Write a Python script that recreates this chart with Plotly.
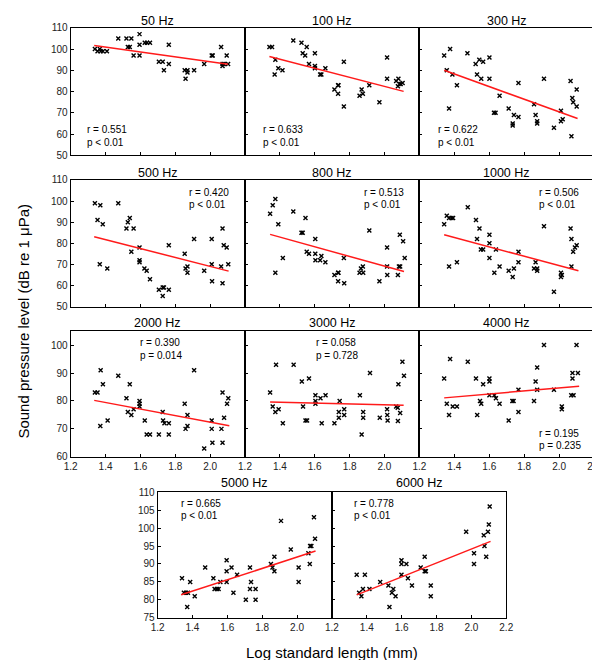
import plotly.graph_objects as go

# ---------------- data ----------------
titles = ["50 Hz", "100 Hz", "300 Hz", "500 Hz", "800 Hz", "1000 Hz",
          "2000 Hz", "3000 Hz", "4000 Hz", "5000 Hz", "6000 Hz"]

x_50 = [1.339, 1.354, 1.367, 1.372, 1.385, 1.408, 1.473, 1.52, 1.528, 1.539, 1.548, 1.561, 1.595, 1.595, 1.595,
        1.625, 1.638, 1.655, 1.706, 1.728, 1.735, 1.763, 1.763, 1.854, 1.859, 1.87, 1.87, 1.908, 1.966, 2.009,
        2.015, 2.063, 2.071, 2.071, 2.078, 2.095, 2.103]
y_50 = [100, 99, 100, 99, 99, 99, 105, 105, 101, 101, 105, 97, 107, 102, 97,
        103, 103, 103, 94, 94, 90, 102, 93, 90, 86, 89, 90, 90, 93, 97,
        97, 101, 93, 92, 93, 97, 93]

x_100 = [1.34, 1.355, 1.374, 1.37, 1.391, 1.415, 1.477, 1.524, 1.531, 1.545, 1.554, 1.567, 1.601, 1.601, 1.601,
         1.631, 1.638, 1.661, 1.713, 1.734, 1.736, 1.734, 1.767, 1.767, 1.857, 1.869, 1.876, 1.913, 1.971, 2.015,
         2.015, 2.067, 2.077, 2.08, 2.086, 2.093, 2.104]
y_100 = [101, 101, 95, 88, 91, 90, 104, 103, 98, 97, 101, 93, 98, 92, 91,
         88, 88, 91, 81, 83, 83, 79, 94, 73, 78, 81, 79, 83, 75, 96,
         86, 85, 82.5, 86, 83.5, 83.5, 84]

x_300 = [1.342, 1.357, 1.376, 1.37, 1.389, 1.415, 1.475, 1.522, 1.53, 1.543, 1.554, 1.565, 1.601, 1.601, 1.659,
         1.627, 1.636, 1.711, 1.734, 1.734, 1.741, 1.767, 1.767, 1.856, 1.865, 1.874, 1.874, 1.913, 1.97, 2.01,
         2.01, 2.02, 2.065, 2.07, 2.075, 2.08, 2.1, 2.1]
y_300 = [97, 90, 100, 72, 88, 83, 98, 93, 88, 95, 86, 94, 96, 86, 78,
         70, 70, 72, 65, 64, 69, 84, 68, 74, 69, 66, 65, 86, 63, 71,
         66, 67, 85, 59, 77, 75, 73, 81]

x_500 = [1.339, 1.354, 1.367, 1.37, 1.384, 1.41, 1.473, 1.52, 1.528, 1.539, 1.548, 1.561, 1.595, 1.595, 1.595,
         1.623, 1.636, 1.655, 1.706, 1.728, 1.735, 1.728, 1.763, 1.763, 1.854, 1.859, 1.87, 1.87, 1.908, 1.966,
         2.009, 2.009, 2.011, 2.063, 2.071, 2.071, 2.078, 2.095, 2.104]
y_500 = [99, 91, 70, 98, 89, 68, 99, 87, 90, 92, 76, 87, 78, 72, 71,
         68, 67, 63, 58, 59, 59, 55, 58, 79, 75, 68, 69, 66, 82, 67,
         82, 70, 62, 69, 87, 61, 79, 78, 70]

x_800 = [1.344, 1.359, 1.374, 1.391, 1.374, 1.417, 1.477, 1.524, 1.531, 1.547, 1.554, 1.567, 1.603, 1.603, 1.604,
         1.631, 1.638, 1.661, 1.713, 1.734, 1.736, 1.734, 1.767, 1.769, 1.857, 1.865, 1.876, 1.878, 1.913, 1.971,
         2.015, 2.015, 2.016, 2.077, 2.083, 2.09, 2.088, 2.107, 2.116]
y_800 = [94, 98, 101, 89, 66, 73, 95, 85, 85, 92, 76, 75, 82, 75, 72,
         72, 74, 71, 65, 66, 66, 62, 73, 61, 66, 68, 69, 66, 86, 62,
         78, 69, 65, 65, 69, 69, 84, 81, 73]

x_1000 = [1.342, 1.357, 1.37, 1.384, 1.393, 1.37, 1.415, 1.477, 1.524, 1.544, 1.53, 1.552, 1.565, 1.601, 1.601,
          1.601, 1.638, 1.659, 1.629, 1.711, 1.734, 1.741, 1.767, 1.767, 1.865, 1.856, 1.874, 1.874, 1.913, 1.97,
          2.01, 2.01, 2.015, 2.065, 2.07, 2.07, 2.08, 2.09, 2.1]
y_1000 = [89, 93, 92, 92, 92, 69, 71, 97, 91, 87, 82, 77, 77, 84, 80,
          73, 77, 69, 66, 67, 64, 68, 76, 71, 71, 68, 68, 67, 88, 57,
          66, 64, 65, 87, 82, 69, 76, 78, 79]

x_2000 = [1.339, 1.354, 1.37, 1.372, 1.385, 1.412, 1.473, 1.52, 1.528, 1.539, 1.548, 1.561, 1.595, 1.595, 1.595,
          1.625, 1.636, 1.655, 1.706, 1.728, 1.73, 1.738, 1.763, 1.763, 1.854, 1.859, 1.87, 1.87, 1.908, 1.966,
          2.009, 2.009, 2.013, 2.065, 2.071, 2.071, 2.08, 2.097, 2.104]
y_2000 = [83, 83, 71, 91, 86, 73, 89, 81, 76, 86, 75, 77, 80, 79, 78,
          73, 68, 68, 68, 76, 73, 72, 72, 68, 79, 70, 71, 75, 91, 63,
          73, 70, 65, 70, 65, 83, 74, 79, 81]

x_3000 = [1.344, 1.359, 1.374, 1.378, 1.393, 1.417, 1.479, 1.526, 1.533, 1.547, 1.556, 1.567, 1.604, 1.604, 1.604,
          1.633, 1.64, 1.662, 1.713, 1.738, 1.738, 1.743, 1.769, 1.769, 1.859, 1.869, 1.878, 1.878, 1.917, 1.973,
          2.015, 2.016, 2.018, 2.067, 2.076, 2.077, 2.08, 2.09, 2.103, 2.112]
y_3000 = [83, 78, 76, 93, 77, 72, 93, 87, 78, 73, 73, 88, 82, 80, 79,
          81, 72, 82, 72, 76, 74, 80, 77, 75, 82, 68, 76, 74, 90, 74,
          77, 75, 73, 78, 77.6, 72.8, 86, 75.7, 94, 89]

x_4000 = [1.342, 1.357, 1.37, 1.376, 1.391, 1.415, 1.477, 1.524, 1.531, 1.547, 1.554, 1.565, 1.601, 1.601, 1.601,
          1.629, 1.638, 1.659, 1.711, 1.732, 1.739, 1.767, 1.767, 1.856, 1.865, 1.874, 1.874, 1.913, 1.97, 2.015,
          2.015, 2.069, 2.076, 2.076, 2.082, 2.099, 2.107]
y_4000 = [88, 79, 75, 95, 78, 78, 94, 88, 75, 80, 79, 86, 88, 87, 82,
          82, 81, 79, 73, 80, 80, 84, 76, 80, 87, 92, 84, 100, 84, 78,
          77, 82, 88, 90, 82, 100, 90]

x_5000 = [1.34, 1.351, 1.363, 1.374, 1.37, 1.387, 1.413, 1.473, 1.52, 1.527, 1.54, 1.55, 1.56, 1.596, 1.596,
          1.596, 1.624, 1.635, 1.656, 1.706, 1.73, 1.73, 1.736, 1.762, 1.762, 1.85, 1.859, 1.87, 1.87, 1.908,
          1.964, 2.009, 2.009, 2.065, 2.073, 2.075, 2.082, 2.097, 2.103]
y_5000 = [86, 82, 82, 82, 78, 85, 81, 89, 86, 83, 83, 83, 85, 85, 91,
          88, 89, 82, 87, 80, 89, 83, 85, 83, 80, 90, 89, 92, 88, 102,
          94, 89, 85, 93, 90, 95, 95, 103, 97]

x_6000 = [1.342, 1.356, 1.369, 1.378, 1.389, 1.415, 1.477, 1.524, 1.53, 1.544, 1.552, 1.565, 1.599, 1.599, 1.599,
          1.627, 1.636, 1.659, 1.709, 1.732, 1.732, 1.739, 1.767, 1.767, 1.97, 2.015, 2.015, 2.071, 2.075, 2.085,
          2.095, 2.1, 2.105]
y_6000 = [87, 82, 81, 83, 87, 83, 85, 84, 78, 82, 83, 81, 87, 90, 91,
          90, 86, 84, 89, 92, 88, 88, 84, 81, 99, 93, 90, 98, 95, 92,
          99, 101, 106]

# fitted regression lines: [x_start, x_end], [y_start, y_end]
fit_x = [[1.335, 2.103], [1.34, 2.11], [1.342, 2.105], [1.335, 2.106], [1.344, 2.112], [1.342, 2.11],
         [1.335, 2.11], [1.344, 2.11], [1.342, 2.114], [1.335, 2.106], [1.342, 2.11]]
fit_y = [[101.7, 92.8], [96.5, 80.1], [90.0, 67.3], [83.1, 66.8], [84.2, 66.6], [84.0, 67.0],
         [80.2, 71.1], [79.6, 78.5], [81.1, 85.3], [81.4, 93.6], [81.4, 96.3]]

r_text = ["r = 0.551", "r = 0.633", "r = 0.622", "r = 0.420", "r = 0.513", "r = 0.506",
          "r = 0.390", "r = 0.058", "r = 0.195", "r = 0.665", "r = 0.778"]
p_text = ["p < 0.01", "p < 0.01", "p < 0.01", "p < 0.01", "p < 0.01", "p < 0.01",
          "p = 0.014", "p = 0.728", "p = 0.235", "p < 0.01", "p < 0.01"]

x_ticks = [1.2, 1.4, 1.6, 1.8, 2.0, 2.2]
y_ticks_rows = [[50, 60, 70, 80, 90, 100, 110], [50, 60, 70, 80, 90, 100, 110],
                [60, 70, 80, 90, 100], [75, 80, 85, 90, 95, 100, 105, 110]]
y_range_rows = [[50, 110], [50, 110], [60, 105], [75, 110]]

xs = [x_50, x_100, x_300, x_500, x_800, x_1000, x_2000, x_3000, x_4000, x_5000, x_6000]
ys = [y_50, y_100, y_300, y_500, y_800, y_1000, y_2000, y_3000, y_4000, y_5000, y_6000]

# ---------------- layout geometry (pixels) ----------------
W, H = 600, 660
row_px = [(14, 144), (169, 298), (323, 451), (487, 615)]
cols3 = [(57, 235.5), (235.5, 414), (414, 593)]
cols2 = [(146, 324.5), (324.5, 503)]
panel_row = [0, 0, 0, 1, 1, 1, 2, 2, 2, 3, 3]
panel_col = [0, 1, 2, 0, 1, 2, 0, 1, 2, 0, 1]
# r/p annotation positions (pixel, left edge, first-line centre)
ann_px = [(72, 118), (251.5, 118), (431, 118), (176.5, 181.5), (355.5, 181.5), (534, 181.5),
          (126, 335), (306, 335), (534, 427), (167.5, 498.5), (345, 498.5)]
title_y = [7, 161.5, 315, 478]

FONT = "Liberation Sans, Arial, sans-serif"
fig = go.Figure()
annotations = []

def fx(px):
    return px / W

def fy(py):
    return 1 - py / H

for i in range(11):
    r, c = panel_row[i], panel_col[i]
    cx = (cols2 if r == 3 else cols3)[c]
    ry = row_px[r]
    ax = "" if i == 0 else str(i + 1)
    xa, ya = "x" + ax, "y" + ax
    fig.add_trace(go.Scatter(x=xs[i], y=ys[i], mode="markers", xaxis=xa, yaxis=ya,
                             marker=dict(symbol="x-thin", size=4, color="black",
                                         line=dict(width=1.4, color="black")),
                             showlegend=False, hoverinfo="skip"))
    fig.add_trace(go.Scatter(x=fit_x[i], y=fit_y[i], mode="lines", xaxis=xa, yaxis=ya,
                             line=dict(color="#ff1a1a", width=1.5), showlegend=False,
                             hoverinfo="skip"))
    show_x = r >= 2
    last_in_row = (r < 3 and c == 2) or (r == 3 and c == 1)
    xt = x_ticks if last_in_row else x_ticks[:-1]
    common = dict(showgrid=False, zeroline=False, showline=True, linecolor="black",
                  linewidth=1, mirror=True, ticks="inside", ticklen=3, tickcolor="black",
                  tickfont=dict(family=FONT, size=10, color="#222"))
    fig.layout["xaxis" + ax] = dict(common, domain=[fx(cx[0]), fx(cx[1])], range=[1.2, 2.2],
                                    tickvals=xt, ticktext=[f"{v:.1f}" for v in xt],
                                    showticklabels=show_x, anchor=ya)
    fig.layout["yaxis" + ax] = dict(common, domain=[fy(ry[1]), fy(ry[0])], range=y_range_rows[r],
                                    tickvals=y_ticks_rows[r], showticklabels=(c == 0), anchor=xa)
    annotations.append(dict(x=fx((cx[0] + cx[1]) / 2), y=fy(title_y[r]), xref="paper", yref="paper",
                            text=titles[i], showarrow=False, xanchor="center", yanchor="middle",
                            font=dict(family=FONT, size=12.5, color="black")))
    axp, ayp = ann_px[i]
    annotations.append(dict(x=fx(axp), y=fy(ayp), xref="paper", yref="paper", text=r_text[i],
                            showarrow=False, xanchor="left", yanchor="middle",
                            font=dict(family=FONT, size=10, color="black")))
    annotations.append(dict(x=fx(axp), y=fy(ayp + 12.5), xref="paper", yref="paper", text=p_text[i],
                            showarrow=False, xanchor="left", yanchor="middle",
                            font=dict(family=FONT, size=10, color="black")))

annotations.append(dict(x=fx(325), y=fy(650), xref="paper", yref="paper",
                        text="Log standard length (mm)", showarrow=False,
                        xanchor="center", yanchor="middle",
                        font=dict(family=FONT, size=15, color="black")))
annotations.append(dict(x=fx(8.5), y=fy(313), xref="paper", yref="paper",
                        text="Sound pressure level (dB re 1 μPa)", showarrow=False, textangle=-90,
                        xanchor="center", yanchor="middle",
                        font=dict(family=FONT, size=15, color="black")))

fig.update_layout(width=W, height=H, margin=dict(l=0, r=0, t=0, b=0),
                  paper_bgcolor="white", plot_bgcolor="white",
                  annotations=annotations, font=dict(family=FONT))
fig.write_html("out.html")
